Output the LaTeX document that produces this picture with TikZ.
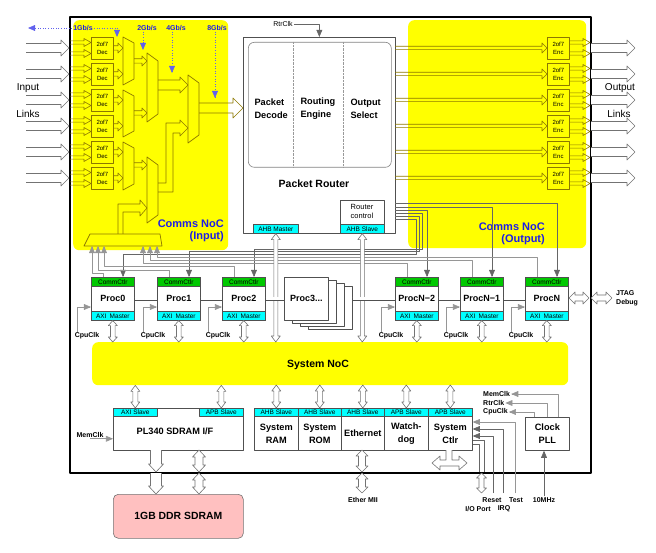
\documentclass[tikz,border=0pt]{standalone}
\usepackage{fontspec}
\setmainfont{Liberation Sans}
\usetikzlibrary{arrows,calc}

\definecolor{nocyel}{RGB}{255,255,0}
\definecolor{tagcyan}{RGB}{0,255,255}
\definecolor{ctlgreen}{RGB}{0,200,0}
\definecolor{ddrpink}{RGB}{255,192,192}
\definecolor{muxline}{RGB}{140,120,0}
\definecolor{rateblue}{RGB}{30,30,230}
\definecolor{boxedge}{RGB}{80,80,80}
\definecolor{wiregray}{RGB}{150,150,150}

\newcommand{\fsz}[2]{\fontsize{#1}{#2}\selectfont}

% hollow arrows: [style]{from}{to}{half shaft}{half head}{head length}
\newcommand{\fatR}[6][fat]{\draw[#1] let \p1=#2, \p2=#3 in
  (\x1,{\y1+#4}) -- ({\x2-#6},{\y1+#4}) -- ({\x2-#6},{\y1+#5}) -- (\x2,\y1)
  -- ({\x2-#6},{\y1-#5}) -- ({\x2-#6},{\y1-#4}) -- (\x1,{\y1-#4});}
\newcommand{\fatD}[6][fat]{\draw[#1] let \p1=#2, \p2=#3 in
  ({\x1-#4},\y1) -- ({\x1-#4},{\y2+#6}) -- ({\x1-#5},{\y2+#6}) -- (\x1,\y2)
  -- ({\x1+#5},{\y2+#6}) -- ({\x1+#4},{\y2+#6}) -- ({\x1+#4},\y1);}
\newcommand{\fatHH}[6][fat]{\draw[#1] let \p1=#2, \p2=#3 in
  (\x1,\y1) -- ({\x1+#6},{\y1+#5}) -- ({\x1+#6},{\y1+#4}) -- ({\x2-#6},{\y1+#4})
  -- ({\x2-#6},{\y1+#5}) -- (\x2,\y1) -- ({\x2-#6},{\y1-#5}) -- ({\x2-#6},{\y1-#4})
  -- ({\x1+#6},{\y1-#4}) -- ({\x1+#6},{\y1-#5}) -- cycle;}
\newcommand{\fatVV}[6][fat]{\draw[#1] let \p1=#2, \p2=#3 in
  (\x1,\y1) -- ({\x1+#5},{\y1-#6}) -- ({\x1+#4},{\y1-#6}) -- ({\x1+#4},{\y2+#6})
  -- ({\x1+#5},{\y2+#6}) -- (\x1,\y2) -- ({\x1-#5},{\y2+#6}) -- ({\x1-#4},{\y2+#6})
  -- ({\x1-#4},{\y1-#6}) -- ({\x1-#5},{\y1-#6}) -- cycle;}
% mux: left x, right x, top y, bottom y, inset
\newcommand{\mux}[5]{\draw[muxl] (#1,#3) -- (#2,{#3+#5}) -- (#2,{#4-#5}) -- (#1,#4) -- cycle;}

\tikzset{
  blk/.style={draw=boxedge, fill=white, line width=0.7pt, inner sep=0pt, anchor=north west},
  noc/.style={fill=nocyel, rounded corners=6pt, inner sep=0pt, anchor=north west},
  tag/.style={draw=boxedge, fill=tagcyan, line width=0.6pt, inner sep=0pt, anchor=north west,
    minimum width=43pt, minimum height=9pt, font=\fsz{6.5}{7}},
  ctl/.style={tag, fill=ctlgreen},
  plbl/.style={font=\bfseries\fsz{9}{10}},
  lbl/.style={font=\bfseries\fsz{9.2}{13}, align=center},
  sm/.style={font=\bfseries\fsz{7}{8.5}, inner sep=1pt, align=center},
  lk/.style={font=\fsz{10}{12}, inner sep=0pt},
  nocl/.style={text=rateblue, font=\bfseries\fsz{11}{12}, align=right, inner sep=0pt},
  rate/.style={text=rateblue, font=\bfseries\fsz{7}{8}, inner sep=1pt},
  ratel/.style={draw=rateblue!70, dotted, line width=0.6pt},
  dec/.style={draw=muxline, line width=0.7pt, anchor=north west, minimum width=22pt,
    minimum height=22pt, inner sep=0pt, align=center, font=\fsz{6}{8}},
  muxl/.style={draw=muxline, line width=0.7pt},
  fat/.style={draw=boxedge!80, fill=white, line width=0.6pt},
  fatY/.style={draw=muxline, line width=0.6pt},
  sig/.style={draw=black!60, line width=0.6pt},
  wire/.style={draw=wiregray, line width=0.6pt},
  plink/.style={draw=boxedge, double=white, double distance=3pt, line width=0.5pt}
}

% processor: name, left x, label
\newcommand{\procblock}[3]{%
  \node[blk, minimum width=43pt, minimum height=43pt] (#1) at (#2,277) {};
  \node[ctl] (#1c) at (#2,277) {CommCtlr};
  \node[tag] (#1m) at (#2,311) {AXI\enspace Master};
  \node[plbl] (#1l) at (#1.center) {#3};
  \coordinate (#1in) at ({#2+32},277);
  \coordinate (#1out) at ({#2+12},277);
  \node[sm] (#1clk) at ({#2-4},336) {CpuClk};
  \draw[wire,->] ($(#1clk.north west)+(4,0)$) |- ($(#1m.north west)+(0,-4)$);
  \fatVV{(#1m.south)}{(#1m.south |- 0,342)}{2.3pt}{4.5pt}{5pt}
}
% peripheral: name, left x, width, slave tag, label
\newcommand{\periph}[5]{%
  \node[blk, minimum width=#3pt, minimum height=42pt] (#1) at (#2,408) {};
  \node[tag, minimum width=#3pt, minimum height=8pt] (#1t) at (#2,408) {#4};
  \node[lbl] (#1l) at ($(#1t.south)!0.5!(#1.south)$) {#5};
  \fatVV{(#1t.north |- 0,385)}{(#1t.north)}{2.5pt}{4.5pt}{6pt}
}

\begin{document}
\begin{tikzpicture}[x=1pt,y=-1pt,>=triangle 45,line join=round]
\useasboundingbox (0,0) rectangle (656,553);

% chip and networks
\node[draw, line width=1.6pt, minimum width=521pt, minimum height=456pt, anchor=north west, inner sep=0pt] (chip) at (69,16) {};
\node[noc, minimum width=155pt, minimum height=230pt] (cin) at (73,20) {};
\node[noc, minimum width=178pt, minimum height=228pt] (cout) at (408,20) {};
\node[noc, minimum width=476pt, minimum height=43pt] (sysnoc) at (92,342) {};
\node[font=\bfseries\fsz{10.5}{12}] (sysnocl) at (318,365) {System NoC};
\node[nocl, anchor=east] (cinl) at (224,231) {Comms NoC\\(Input)};
\node[nocl, anchor=east] (coutl) at (545,234) {Comms NoC\\(Output)};

\node[lk] (inl1) at (28,88) {Input};
\node[lk] (inl2) at (28,114) {Links};
\node[lk] (outl1) at (620,88) {Output};
\node[lk] (outl2) at (619,114) {Links};

% link rates
\node[rate] (r1) at (83,28) {1Gb/s};
\node[rate] (r2) at (147,28) {2Gb/s};
\node[rate] (r3) at (176,28) {4Gb/s};
\node[rate] (r4) at (217,28) {8Gb/s};
\draw[ratel,->] (r1.west) -- (28,28);
\draw[ratel,->] (r1.east) -| (117,37);
\draw[ratel,->] ($(r2.south)+(-4,0)$) -- (143,50);
\draw[ratel,->] ($(r3.south)+(-4,0)$) -- (172,73);
\draw[ratel,->] ($(r4.south)+(-2,0)$) -- (215,98);

% router
\node[blk, minimum width=152pt, minimum height=196pt] (router) at (243,37) {};
\node[draw=boxedge!70, rounded corners=6pt, line width=0.6pt, minimum width=143pt, minimum height=125pt, anchor=north west, inner sep=0pt] (rtcore) at (248,42) {};
\draw[black!40, densely dotted] ($(rtcore.north west)+(45,0)$) -- ++(0,125);
\draw[black!40, densely dotted] ($(rtcore.north west)+(95,0)$) -- ++(0,125);
\node[lbl, align=left, anchor=west] (pdec) at (251,108.5) {Packet\\Decode};
\node[lbl, align=left, anchor=west] (reng) at (297,108.5) {Routing\\Engine};
\node[lbl, align=left, anchor=west] (osel) at (347,108.5) {Output\\Select};
\node[font=\bfseries\fsz{10.5}{12}] (rtl) at (314,184) {Packet Router};
\node[blk, minimum width=44pt, minimum height=33pt] (rctl) at (340,200) {};
\node[font=\fsz{7.5}{9}, align=center] (rctll) at (362,211.5) {Router\\control};
\node[tag, minimum width=44pt] (ahbs) at (340,224) {AHB Slave};
\node[tag, minimum width=45pt] (ahbm) at (253,224) {AHB Master};
\node[font=\fsz{7}{8}, inner sep=1pt] (rtrclk) at (283,24) {RtrClk};
\draw[sig,->] (rtrclk.east) -| (router.north);

% input and output links
\foreach \yy [count=\k] in {48,74,100,126,152,178} {
  \fatR{(26,\yy)}{(69,\yy)}{4.5pt}{8pt}{8pt}
  \fatR[fatY]{(70,{\yy-5.5})}{(91,{\yy-5.5})}{1.6pt}{4pt}{7pt}
  \fatR[fatY]{(70,{\yy+5.5})}{(91,{\yy+5.5})}{1.6pt}{4pt}{7pt}
  \node[dec] (dec\k) at (91,{\yy-11}) {2of7\\Dec};
  \fatR[fatY]{(113,\yy)}{(123,\yy)}{2.2pt}{5pt}{5pt}
  \fatR[fatY]{(395,\yy)}{(547,\yy)}{1.7pt}{5pt}{5pt}
  \node[dec] (enc\k) at (547,{\yy-11}) {2of7\\Enc};
  \fatR[fatY]{(569,{\yy-5.5})}{(590,{\yy-5.5})}{1.6pt}{4pt}{7pt}
  \fatR[fatY]{(569,{\yy+5.5})}{(590,{\yy+5.5})}{1.6pt}{4pt}{7pt}
  \fatR{(591,\yy)}{(635,\yy)}{4.5pt}{8pt}{8pt}
}

% merge tree
\mux{123}{134}{37}{85}{6}
\mux{123}{134}{90}{137}{6}
\mux{123}{134}{142}{190}{6}
\mux{147}{158}{53}{122}{8}
\mux{147}{158}{157}{223}{8}
\mux{188}{199}{75}{143}{8}
\draw[muxl] (90,234) -- (160,234) -- (162,246) -- (84,246) -- cycle;
\fatR[fatY]{(134,61)}{(147,61)}{2.2pt}{5pt}{5pt}
\fatR[fatY]{(134,113)}{(147,113)}{2.2pt}{5pt}{5pt}
\fatR[fatY]{(134,165)}{(147,165)}{2.2pt}{5pt}{5pt}
\fatR[fatY]{(158,85)}{(188,85)}{5pt}{8pt}{8pt}
\fatR[fatY]{(199,108)}{(243,108)}{5pt}{10pt}{10pt}
\draw[fatY] (158,192) -| (173,133) -- (180,133) -- (180,136) -- (188,128) -- (180,120) -- (180,123) -| (166,183) -- (158,183);
\draw[fatY] (118,234) |- (140,204) -- (140,200) -- (147,208) -- (140,216) -- (140,212) -| (123,234);

% processors
\procblock{proc0}{91}{Proc0}
\procblock{proc1}{157}{Proc1}
\procblock{proc2}{222}{Proc2}
\procblock{procNm2}{395}{ProcN−2}
\procblock{procNm1}{460}{ProcN−1}
\procblock{procN}{525}{ProcN}
\foreach \k in {3,2,1}
  \node[blk, minimum width=44pt, minimum height=43pt] (pg\k) at ({284+8*\k},{277+3*\k}) {};
\node[blk, minimum width=44pt, minimum height=43pt] (pg0) at (284,277) {};
\node[plbl] (pg0l) at (pg0.center) {Proc3...};

% router to CommCtlr
\foreach \yy [count=\k] in {203,207,210,213,216,219}
  \coordinate (ro\k) at (395,\yy);
\draw[sig,->] (ro1) -| (procNin);
\draw[sig,->] (ro2) -| (procNm1in);
\draw[sig,->] (ro3) -| (procNm2in);
\draw[sig,->] (ro4) -| (422,249) -| (proc2in);
\draw[sig,->] (ro5) -| (419,251.5) -| (proc1in);
\draw[sig,->] (ro6) -| (416,254) -| (proc0in);

% CommCtlr to input merge
\foreach \xx [count=\k] in {92,98,104,143,150,157}
  \coordinate (mi\k) at (\xx,246);
\draw[wire,->] (proc0out) -- ++(0,-3.5) -| (mi1);
\draw[wire,->] (proc1out) -- ++(0,-7) -| (mi2);
\draw[wire,->] (proc2out) -- ++(0,-10.5) -| (mi3);
\draw[wire,->] (procNm2out) -- ++(0,-14) -| (mi4);
\draw[wire,->] (procNm1out) -- ++(0,-17) -| (mi5);
\draw[wire,->] (procNout) -- ++(0,-20) -| (mi6);

% router bus ports
\fatVV{(ahbm.south)}{(ahbm.south |- sysnoc.north)}{2pt}{4.5pt}{6pt}
\fatVV{(ahbs.south)}{(ahbs.south |- sysnoc.north)}{2pt}{4.5pt}{6pt}

% processor chain
\draw[plink] (proc0.east) -- (proc1.west);
\draw[plink] (proc1.east) -- (proc2.west);
\draw[plink] (proc2.east) -- (pg0.west);
\draw[plink] (procNm2.west -| pg3.east) -- (procNm2.west);
\draw[plink] (procNm2.east) -- (procNm1.west);
\draw[plink] (procNm1.east) -- (procN.west);

% JTAG
\fatHH{(569,298)}{(589,298)}{3pt}{6pt}{6pt}
\fatHH{(591,298)}{(612,298)}{3pt}{6pt}{6pt}
\node[sm, align=left, anchor=west] (jtag) at (615,298.5) {JTAG\\Debug};

% memory interface
\node[blk, minimum width=130pt, minimum height=42pt] (pl340) at (113,408) {};
\node[tag, minimum width=44pt, minimum height=8pt] (pl340a) at (113,408) {AXI Slave};
\node[tag, minimum width=44pt, minimum height=8pt] (pl340b) at (199,408) {APB Slave};
\node[lbl] (pl340l) at (175,431) {PL340 SDRAM I/F};
\fatVV{(pl340a.north |- sysnoc.south)}{(pl340a.north)}{2.5pt}{4.5pt}{6pt}
\fatVV{(pl340b.north |- sysnoc.south)}{(pl340b.north)}{2.5pt}{4.5pt}{6pt}
\node[sm] (memclk) at (90,435) {MemClk};
\draw[wire,->] (memclk.south) -- (memclk.south -| pl340.west);
\node[draw=boxedge!80, fill=ddrpink, rounded corners=5pt, line width=0.6pt, minimum width=130pt, minimum height=44pt, anchor=north west, inner sep=0pt] (ddr) at (113,494) {};
\node[font=\bfseries\fsz{10.4}{12}] (ddrl) at (ddr.center) {1GB DDR SDRAM};
\fatD{(156,450)}{(156,472)}{5.5pt}{7.5pt}{8pt}
\fatD{(156,473)}{(156,494)}{5.5pt}{7.5pt}{8pt}
\fatVV{(199,450)}{(199,472)}{4pt}{6.5pt}{7pt}
\fatVV{(199,473)}{(199,494)}{4pt}{6.5pt}{7pt}

% peripherals
\periph{sram}{254}{44}{AHB Slave}{System\\RAM}
\periph{srom}{298}{43}{AHB Slave}{System\\ROM}
\periph{eth}{341}{43}{AHB Slave}{Ethernet}
\periph{wdog}{384}{44}{APB Slave}{Watch-\\dog}
\periph{sctl}{428}{44}{APB Slave}{System\\Ctlr}
\fatVV{(362,450)}{(362,472)}{3.5pt}{6pt}{6pt}
\fatVV{(362,473)}{(362,493)}{3.5pt}{6pt}{6pt}
\node[sm] (mii) at (363,500) {Ether MII};
\draw[fat] (446,450) -- (446,460) -- (440,460) -- (440,456) -- (432,463) -- (440,470) -- (440,466) -- (459,466) -- (459,470) -- (467,463) -- (459,456) -- (459,460) -- (452,460) -- (452,450);

% system controller pins
\node[sm] (test) at (516,500) {Test};
\node[sm] (reset) at (492,500) {Reset};
\node[sm] (irq) at (504,509) {IRQ};
\node[sm] (iop) at (478,509) {I/O Port};
\draw[wire,->] (515,493) |- (sctl.east |- 0,422);
\draw[sig,->] (503,493) |- (sctl.east |- 0,429);
\draw[sig,->] (493,493) |- (sctl.east |- 0,436);
\draw[sig] (sctl.east |- 0,440) -| (484,472);
\draw[sig] (sctl.east |- 0,444) -| (479,472);
\fatVV{(481.5,473)}{(481.5,493)}{2.5pt}{5pt}{5pt}

% clock generator
\node[blk, minimum width=44pt, minimum height=33pt] (clk) at (525,417) {};
\node[lbl] (clkl) at (clk.center) {Clock\\PLL};
\node[sm, anchor=west] (mclk) at (482,394) {MemClk};
\node[sm, anchor=west] (rclk) at (482,403) {RtrClk};
\node[sm, anchor=west] (cclk) at (482,412) {CpuClk};
\draw[wire,->] ($(clk.north west)+(33,0)$) |- (mclk.east);
\draw[wire,->] ($(clk.north west)+(22,0)$) |- (rclk.east);
\draw[wire,->] ($(clk.north west)+(9,0)$) |- (cclk.east);
\node[sm] (mhz) at (544,500) {10MHz};
\draw[sig,->] (mhz.north) -- (mhz.north |- clk.south);
\end{tikzpicture}
\end{document}
